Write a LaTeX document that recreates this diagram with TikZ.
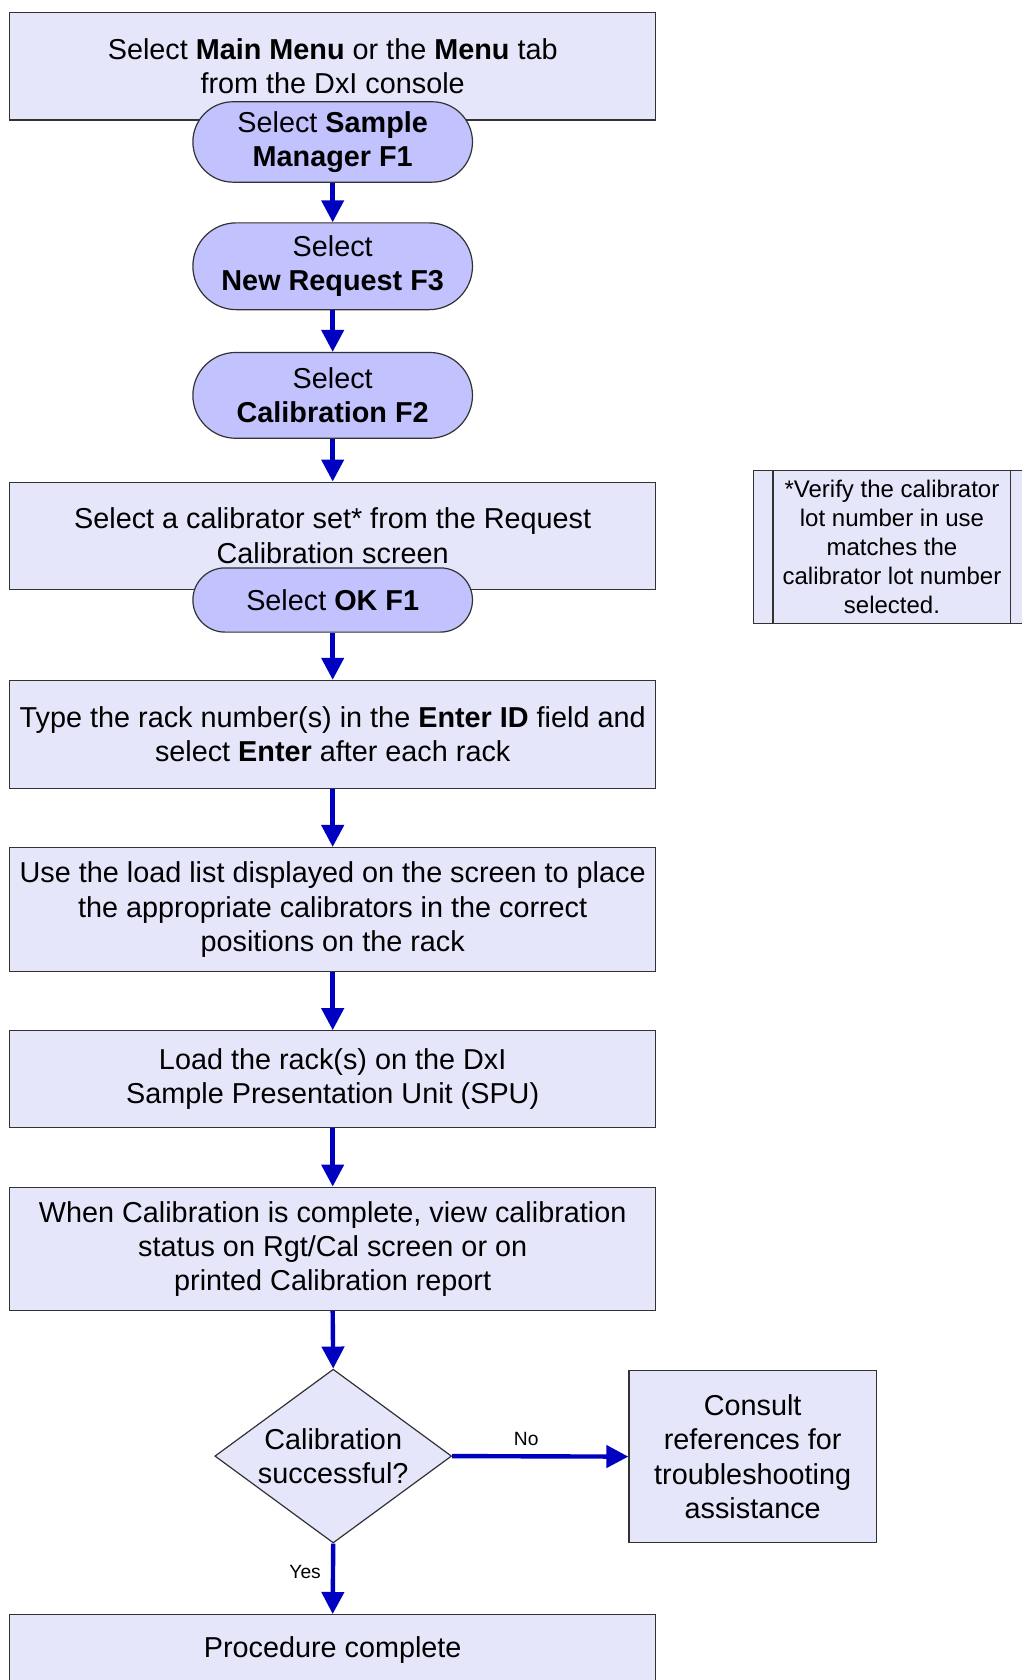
\documentclass[tikz,border=0pt]{standalone}
\usepackage{fontspec}
\setmainfont{Liberation Sans}
\usetikzlibrary{arrows.meta,shapes.geometric}
\definecolor{boxfill}{RGB}{230,230,250}
\definecolor{pillfill}{RGB}{194,194,255}
\definecolor{arrowblue}{RGB}{0,0,192}
\definecolor{edgecol}{RGB}{50,50,50}
\tikzset{
  mainfont/.style={font=\fontsize{14.4}{17.1}\selectfont},
  stepbox/.style={draw=edgecol, line width=0.6pt, fill=boxfill, minimum width=323pt, align=center, inner sep=0pt, mainfont},
  pill/.style={draw=edgecol, line width=0.6pt, fill=pillfill, minimum width=139.8pt, align=center, inner sep=0pt, mainfont},
  decision/.style={diamond, draw=edgecol, line width=0.6pt, fill=boxfill, minimum width=118.4pt, minimum height=84.6pt, inner sep=-4pt, align=center, mainfont},
  notebox/.style={draw=edgecol, line width=0.6pt, fill=boxfill, minimum width=138.7pt, minimum height=76.6pt, align=center, inner sep=0pt, font=\fontsize{12}{14.4}\selectfont},
  flow/.style={draw=arrowblue, line width=2.2pt, -{Triangle[width=11pt,length=11pt]}},
  smalllabel/.style={font=\fontsize{9.6}{11}\selectfont, inner sep=0pt}
}
\begin{document}
\begin{tikzpicture}[x=0.5357pt, y=-0.5357pt]
\useasboundingbox (0,0) rectangle (953,1568);

% main boxes
\node[stepbox, minimum height=53.6pt] (b1) at (310.5,62) {Select \textbf{Main Menu} or the \textbf{Menu} tab\\from the DxI console};
\node[pill, minimum height=40.2pt, rounded corners=20.1pt] (p1) at (310.5,132.5) {Select \textbf{Sample}\\\textbf{Manager F1}};
\node[pill, minimum height=43.4pt, rounded corners=21.7pt] (p2) at (310.5,248.5) {Select\\\textbf{New Request F3}};
\node[pill, minimum height=42.9pt, rounded corners=21.45pt] (p3) at (310.5,369) {Select\\\textbf{Calibration F2}};
\node[stepbox, minimum height=53.6pt] (b2) at (310.5,500) {Select a calibrator set* from the Request\\Calibration screen};
\node[pill, minimum height=32.1pt, rounded corners=16.05pt] (p4) at (310.5,560) {Select \textbf{OK F1}};
\node[stepbox, minimum height=54.1pt] (b3) at (310.5,685.5) {Type the rack number(s) in the \textbf{Enter ID} field and\\select \textbf{Enter} after each rack};
\node[stepbox, minimum height=62.1pt] (b4) at (310.5,849) {Use the load list displayed on the screen to place\\the appropriate calibrators in the correct\\positions on the rack};
\node[stepbox, minimum height=48.2pt] (b5) at (310.5,1007) {Load the rack(s) on the DxI\\Sample Presentation Unit (SPU)};
\node[stepbox, minimum height=61.6pt] (b6) at (310.5,1165.5) {When Calibration is complete, view calibration\\status on Rgt/Cal screen or on\\printed Calibration report};
\node[decision] (dec) at (311,1359) {Calibration\\successful?};
\node[stepbox, minimum width=123.7pt, minimum height=86.2pt] (cons) at (702.5,1359.5) {Consult\\references for\\troubleshooting\\assistance};
\node[stepbox, minimum height=35.4pt] (fin) at (310.5,1540) {Procedure complete};

% note
\node[notebox] (note) at (832.5,510.5) {*Verify the calibrator\\lot number in use\\matches the\\calibrator lot number\\selected.};
\draw[draw=edgecol, line width=0.6pt] ([xshift=10.2pt]note.north west) -- ([xshift=10.2pt]note.south west);
\draw[draw=edgecol, line width=0.6pt] ([xshift=-10.2pt]note.north east) -- ([xshift=-10.2pt]note.south east);

% connectors
\draw[flow] (p1.south) -- (p2.north);
\draw[flow] (p2.south) -- (p3.north);
\draw[flow] (p3.south) -- (b2.north);
\draw[flow] (p4.south) -- (b3.north);
\draw[flow] (b3.south) -- (b4.north);
\draw[flow] (b4.south) -- (b5.north);
\draw[flow] (b5.south) -- (b6.north);
\draw[flow] (b6.south) -- (dec.north);
\draw[flow] (dec.east) -- node[smalllabel, above=4pt, pos=0.42] {No} (cons.west);
\draw[flow] (dec.south) -- node[smalllabel, left=5pt, pos=0.4] {Yes} (fin.north);
\end{tikzpicture}
\end{document}
